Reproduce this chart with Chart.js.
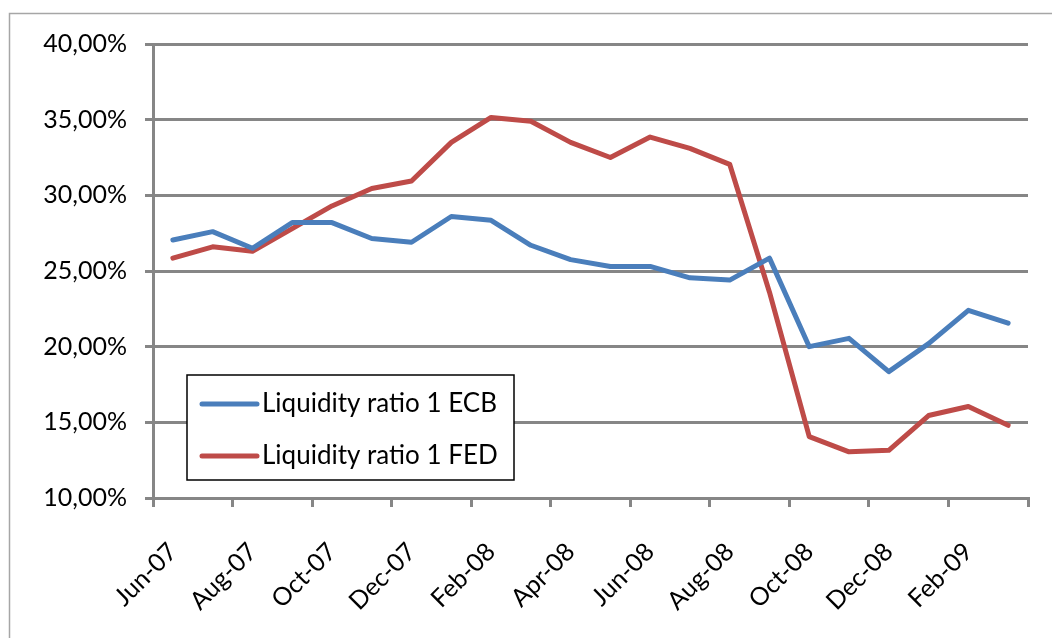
<!DOCTYPE html>
<html lang="en">
<head>
  <meta charset="UTF-8">
  <title>Liquidity ratio 1 ECB vs FED</title>
  <script src="https://cdn.jsdelivr.net/npm/chart.js"></script>
  <style>
    html, body { margin: 0; padding: 0; background: #fff; overflow: hidden; }
    #liqChart { display: block; }
  </style>
</head>
<body>
<canvas id="liqChart" width="1052" height="638"></canvas>
<script>
  // months on the x axis (monthly points, label every other month)
  const months = ["Jun-07", "Jul-07", "Aug-07", "Sep-07", "Oct-07", "Nov-07", "Dec-07", "Jan-08",
    "Feb-08", "Mar-08", "Apr-08", "May-08", "Jun-08", "Jul-08", "Aug-08", "Sep-08",
    "Oct-08", "Nov-08", "Dec-08", "Jan-09", "Feb-09", "Mar-09"];

  // Liquidity ratio 1 in percent
  const ecbValues = [27.05, 27.6, 26.5, 28.2, 28.2, 27.15, 26.9, 28.6, 28.35, 26.7, 25.75, 25.3,
    25.3, 24.55, 24.4, 25.85, 20.0, 20.55, 18.35, 20.2, 22.4, 21.55];
  const fedValues = [25.85, 26.6, 26.3, 27.8, 29.3, 30.45, 30.95, 33.5, 35.15, 34.9, 33.5, 32.5,
    33.85, 33.1, 32.05, 23.6, 14.05, 13.05, 13.15, 15.45, 16.05, 14.8];

  const seriesNames = ["Liquidity ratio 1 ECB", "Liquidity ratio 1 FED"];
  const yMin = 10, yMax = 40, yStep = 5;

  const gridGray = '#868686';
  const fontFamily = 'Lato, "Open Sans", sans-serif';

  // white background + thin frame round the whole chart
  const frame = {
    id: 'frame',
    beforeDraw(chart) {
      const c = chart.ctx;
      c.save();
      c.fillStyle = '#fff';
      c.fillRect(0, 0, chart.width, chart.height);
      c.strokeStyle = '#a6a6a6';
      c.lineWidth = 1.5;
      c.strokeRect(9.5, 13.5, chart.width + 20, chart.height + 20);
      c.restore();
    }
  };

  // legend box sitting inside the plot, bottom left
  const boxLegend = {
    id: 'boxLegend',
    afterDraw(chart) {
      const c = chart.ctx;
      const area = chart.chartArea;
      const x = area.left + 34, y = area.bottom - 123, w = 327, h = 105;
      c.save();
      c.fillStyle = '#fff';
      c.fillRect(x, y, w, h);
      c.strokeStyle = '#000';
      c.lineWidth = 1.5;
      c.strokeRect(x, y, w, h);
      c.font = '26px ' + fontFamily;
      c.textBaseline = 'middle';
      chart.data.datasets.forEach((ds, i) => {
        const ly = y + 29 + i * 52;
        c.strokeStyle = ds.borderColor;
        c.lineWidth = 5;
        c.lineCap = 'round';
        c.beginPath();
        c.moveTo(x + 15, ly);
        c.lineTo(x + 70, ly);
        c.stroke();
        c.fillStyle = '#000';
        c.fillText(ds.label, x + 75, ly);
      });
      c.restore();
    }
  };

  const ctx = document.getElementById('liqChart').getContext('2d');
  const chart = new Chart(ctx, {
    type: 'line',
    data: {
      labels: months,
      datasets: [
        {
          label: seriesNames[0],
          data: ecbValues,
          borderColor: '#4a7ebb',
          borderWidth: 5,
          pointRadius: 0,
          tension: 0,
          borderJoinStyle: 'round',
          borderCapStyle: 'round'
        },
        {
          label: seriesNames[1],
          data: fedValues,
          borderColor: '#be4b48',
          borderWidth: 5,
          pointRadius: 0,
          tension: 0,
          borderJoinStyle: 'round',
          borderCapStyle: 'round'
        }
      ]
    },
    options: {
      responsive: false,
      animation: false,
      devicePixelRatio: 1,
      layout: { padding: { left: 0, right: 24, top: 44, bottom: 0 } },
      plugins: {
        legend: { display: false },
        tooltip: { enabled: false }
      },
      scales: {
        x: {
          offset: true,
          grid: {
            offset: true,
            drawOnChartArea: false,
            tickLength: 9,
            lineWidth: 3,
            color: (c) => (c.index === undefined || c.index % 2 === 0) ? gridGray : 'rgba(0,0,0,0)'
          },
          border: { color: gridGray, width: 3 },
          ticks: {
            autoSkip: false,
            minRotation: 45,
            maxRotation: 45,
            padding: 30,
            color: '#000',
            font: { family: fontFamily, size: 25 },
            callback: (v, i) => i % 2 === 0 ? months[i] : ''
          },
          afterFit: (s) => {
            s.height = 140;
            s.paddingLeft = 0;
            s.paddingRight = 0;
          }
        },
        y: {
          min: yMin,
          max: yMax,
          grid: { color: gridGray, lineWidth: 3, tickLength: 8 },
          border: { color: gridGray, width: 3 },
          ticks: {
            stepSize: yStep,
            padding: 18,
            color: '#000',
            font: { family: fontFamily, size: 25 },
            callback: (v) => v.toFixed(2).replace('.', ',') + '%'
          },
          afterFit: (s) => { s.width = 153; }
        }
      }
    },
    plugins: [frame, boxLegend]
  });
</script>
</body>
</html>
